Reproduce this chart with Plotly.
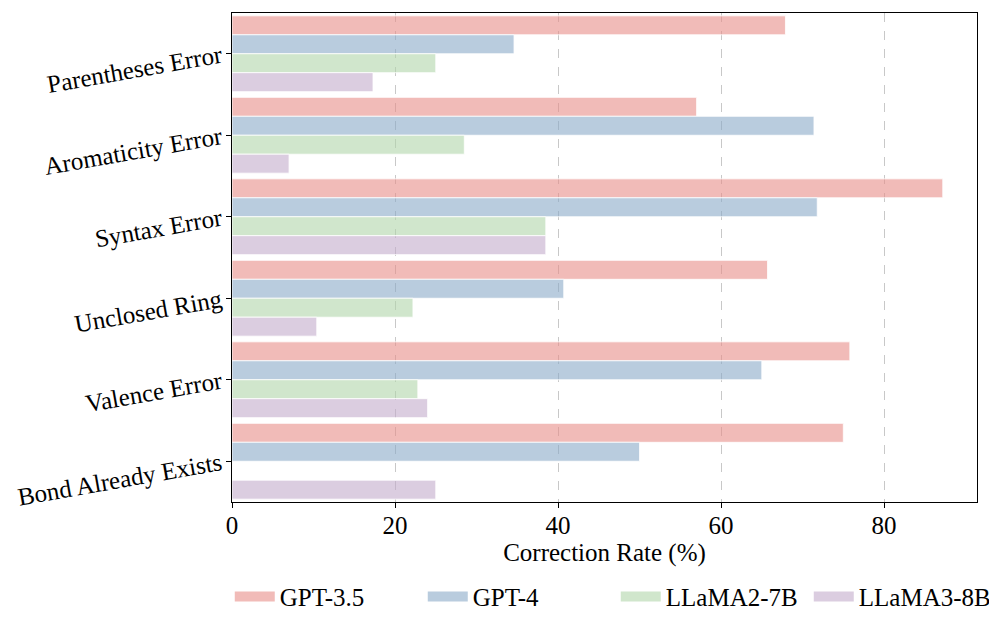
import plotly.graph_objects as go

categories = ["Parentheses Error", "Aromaticity Error", "Syntax Error",
              "Unclosed Ring", "Valence Error", "Bond Already Exists"]
models = ["GPT-3.5", "GPT-4", "LLaMA2-7B", "LLaMA3-8B"]
gpt35 = [67.9, 57.0, 87.2, 65.7, 75.8, 75.0]
gpt4 = [34.6, 71.4, 71.8, 40.7, 65.0, 50.0]
llama2 = [25.0, 28.5, 38.5, 22.2, 22.8, 0.0]
llama3 = [17.3, 7.0, 38.5, 10.4, 24.0, 25.0]
x_ticks = [0, 20, 40, 60, 80]

series = [gpt35, gpt4, llama2, llama3]
colors = ["rgba(232,142,137,0.6)", "rgba(138,170,200,0.6)",
          "rgba(177,213,170,0.6)", "rgba(195,172,203,0.6)"]
legend_colors = ["#F1BBB8", "#B9CCDE", "#D0E6CC", "#DBCDE0"]

FONT = "Liberation Serif, Times New Roman, serif"
FS = 25

fig = go.Figure()
for name, vals, c in zip(models, series, colors):
    fig.add_trace(go.Bar(
        y=categories, x=vals, name=name, orientation="h", showlegend=False,
        marker=dict(color=c, line=dict(color="rgba(255,255,255,0.8)", width=1)),
    ))
# legend patches
for name, c in zip(models, legend_colors):
    fig.add_trace(go.Scatter(
        x=[None], y=[None], name=name, mode="lines",
        line=dict(color=c, width=14), showlegend=True, hoverinfo="skip",
    ))

fig.update_layout(
    width=997, height=634,
    margin=dict(l=224, r=28, t=5, b=140),
    paper_bgcolor="white", plot_bgcolor="white",
    barmode="group", bargap=0.07, bargroupgap=0.0,
    font=dict(family=FONT, size=FS, color="black"),
    legend=dict(orientation="h", x=-0.003, xanchor="left", y=-0.194, yanchor="middle",
                font=dict(family=FONT, size=FS), itemwidth=40,
                entrywidth=138, entrywidthmode="pixels",
                traceorder="normal", tracegroupgap=0),
    showlegend=True,
)
fig.update_xaxes(
    range=[0, 91.4], tickvals=x_ticks, ticktext=[str(v) for v in x_ticks],
    showgrid=True, gridcolor="#c8c8c8", griddash="dash", gridwidth=1,
    zeroline=False, showline=True, linecolor="black", linewidth=1, mirror=True,
    ticks="outside", ticklen=5, tickcolor="black", ticklabelstandoff=-4,
    tickfont=dict(family=FONT, size=FS),
    title=dict(text="Correction Rate (%)", font=dict(family=FONT, size=FS), standoff=0),
)
fig.update_yaxes(
    categoryorder="array", categoryarray=categories,
    range=[5.5, -0.5], showgrid=False, zeroline=False,
    showline=True, linecolor="black", linewidth=1, mirror=True,
    ticks="outside", ticklen=5, tickcolor="black", tickangle=-10,
    tickfont=dict(family=FONT, size=FS),
)

fig.write_html("out.html")
